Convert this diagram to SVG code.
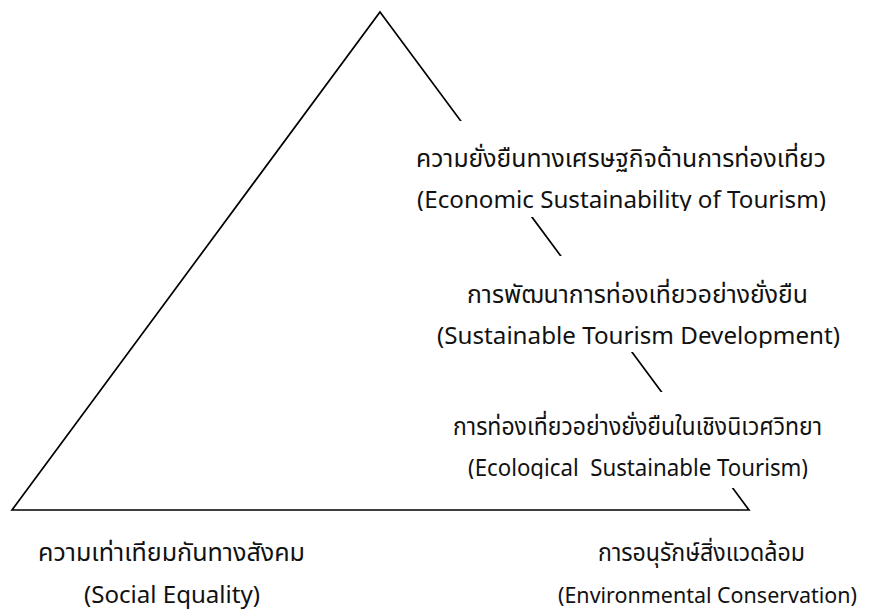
<svg xmlns="http://www.w3.org/2000/svg" width="880" height="616" viewBox="0 0 880 616">
  <style>
    .edge { fill: none; stroke: #000; stroke-width: 1.7; stroke-linejoin: miter; }
    .mask { fill: #fff; stroke: none; }
    .lbl { font-family: "Noto Sans", "Noto Sans Thai", "DejaVu Sans", sans-serif; font-size: 24px; fill: #111; }
    .narrow { font-size: 22px; }
  </style>
  <defs>
    <clipPath id="clip-econ"><rect x="400" y="121" width="460" height="90"/></clipPath>
    <clipPath id="clip-dev"><rect x="400" y="256" width="460" height="92"/></clipPath>
    <clipPath id="clip-eco"><rect x="400" y="392" width="460" height="87"/></clipPath>
  </defs>

  <!-- pyramid outline -->
  <g id="connectors">
    <path class="edge" d="M380,12 L749,510 L12,510 Z"/>
  </g>

  <!-- labels stacked along the right edge; the white panel breaks the edge -->
  <g id="node-economic">
    <rect class="mask" x="400" y="121" width="460" height="96"/>
    <g clip-path="url(#clip-econ)">
      <text class="lbl" x="416" y="167" textLength="410" lengthAdjust="spacingAndGlyphs">ความยั่งยืนทางเศรษฐกิจด้านการท่องเที่ยว</text>
      <text class="lbl" x="417" y="208" textLength="409" lengthAdjust="spacingAndGlyphs">(Economic Sustainability of Tourism)</text>
    </g>
  </g>

  <g id="node-development">
    <rect class="mask" x="400" y="256" width="460" height="96"/>
    <g clip-path="url(#clip-dev)">
      <text class="lbl" x="467" y="303" textLength="341" lengthAdjust="spacingAndGlyphs">การพัฒนาการท่องเที่ยวอย่างยั่งยืน</text>
      <text class="lbl" x="437" y="344" textLength="403" lengthAdjust="spacingAndGlyphs">(Sustainable Tourism Development)</text>
    </g>
  </g>

  <g id="node-ecological">
    <rect class="mask" x="400" y="392" width="460" height="96"/>
    <g clip-path="url(#clip-eco)">
      <text class="lbl" x="453" y="435" textLength="369" lengthAdjust="spacingAndGlyphs">การท่องเที่ยวอย่างยั่งยืนในเชิงนิเวศวิทยา</text>
      <text class="lbl" x="468" y="476" textLength="340" lengthAdjust="spacingAndGlyphs" xml:space="preserve">(Ecological  Sustainable Tourism)</text>
    </g>
  </g>

  <!-- labels under the base corners -->
  <g id="node-social">
    <text class="lbl" x="38" y="561" textLength="267" lengthAdjust="spacingAndGlyphs">ความเท่าเทียมกันทางสังคม</text>
    <text class="lbl" x="84" y="603" textLength="176" lengthAdjust="spacingAndGlyphs">(Social Equality)</text>
  </g>

  <g id="node-environment">
    <text class="lbl" x="598" y="561" textLength="207" lengthAdjust="spacingAndGlyphs">การอนุรักษ์สิ่งแวดล้อม</text>
    <text class="lbl narrow" x="558" y="603" textLength="299" lengthAdjust="spacingAndGlyphs">(Environmental Conservation)</text>
  </g>
</svg>
